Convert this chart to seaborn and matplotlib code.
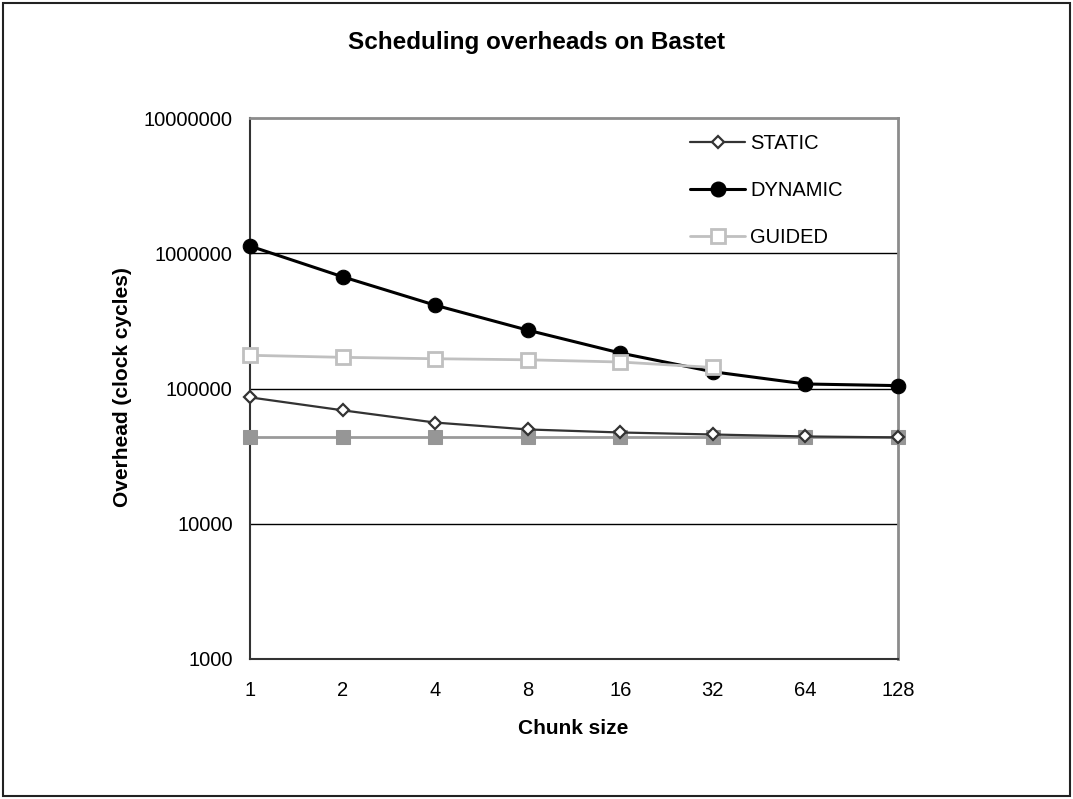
import numpy as np
import pandas as pd
import matplotlib
matplotlib.use("Agg")
import matplotlib.pyplot as plt
from matplotlib.ticker import FixedLocator, FuncFormatter, NullLocator
from matplotlib.lines import Line2D
from matplotlib.patches import Rectangle
import seaborn as sns

# Chunk sizes and measured scheduling overheads (clock cycles)
chunk_sizes = [1, 2, 4, 8, 16, 32, 64, 128]
static_overhead = [86000, 69000, 56000, 49800, 47300, 45700, 44200, 43500]
dynamic_overhead = [1130000, 670000, 413000, 270000, 183000, 133000, 108000, 105000]
guided_chunks = [1, 2, 4, 8, 16, 32]
guided_overhead = [176000, 170000, 166000, 163000, 157000, 143000]
reference_overhead = [44000, 44000, 44000, 44000, 44000, 44000, 44000, 44000]

y_ticks = [1000, 10000, 100000, 1000000, 10000000]

sns.set_style("white")
plt.rcParams["font.family"] = ["Liberation Sans", "DejaVu Sans"]
plt.rcParams["text.color"] = "black"

W, H = 1073, 799
fig = plt.figure(figsize=(W / 100, H / 100), dpi=100)
ax = fig.add_axes([250 / W, 1 - 659 / H, 648 / W, 541 / H])

df_ref = pd.DataFrame({"chunk": chunk_sizes, "overhead": reference_overhead})
df_static = pd.DataFrame({"chunk": chunk_sizes, "overhead": static_overhead})
df_dyn = pd.DataFrame({"chunk": chunk_sizes, "overhead": dynamic_overhead})
df_guided = pd.DataFrame({"chunk": guided_chunks, "overhead": guided_overhead})

style_ref = dict(color="#9a9a9a", lw=2.0, marker="s", markersize=9.5,
                 markerfacecolor="#969696", markeredgecolor="#969696")
style_static = dict(color="#333333", lw=1.6, marker="D", markersize=6,
                    markerfacecolor="white", markeredgecolor="#333333", markeredgewidth=1.6)
style_dyn = dict(color="black", lw=2.2, marker="o", markersize=10.5,
                 markerfacecolor="black", markeredgecolor="black")
style_guided = dict(color="#c0c0c0", lw=2.0, marker="s", markersize=9.5,
                    markerfacecolor="white", markeredgecolor="#c0c0c0", markeredgewidth=2.0)

sns.lineplot(data=df_ref, x="chunk", y="overhead", ax=ax, legend=False,
             zorder=3, clip_on=False, **style_ref)
sns.lineplot(data=df_static, x="chunk", y="overhead", ax=ax, legend=False,
             zorder=4, clip_on=False, **style_static)
sns.lineplot(data=df_dyn, x="chunk", y="overhead", ax=ax, legend=False,
             zorder=5, clip_on=False, **style_dyn)
sns.lineplot(data=df_guided, x="chunk", y="overhead", ax=ax, legend=False,
             zorder=6, clip_on=False, **style_guided)

ax.set_xscale("log", base=2)
ax.set_yscale("log")
ax.set_xlim(1, 128)
ax.set_ylim(1000, 10000000)

ax.xaxis.set_major_locator(FixedLocator(chunk_sizes))
ax.xaxis.set_minor_locator(NullLocator())
ax.xaxis.set_major_formatter(FuncFormatter(lambda v, p: f"{int(round(v))}"))
ax.yaxis.set_major_locator(FixedLocator(y_ticks))
ax.yaxis.set_minor_locator(NullLocator())
ax.yaxis.set_major_formatter(FuncFormatter(lambda v, p: f"{int(round(v))}"))

for yv in y_ticks[1:-1]:
    ax.axhline(yv, color="black", lw=1.0, zorder=1)

ax.tick_params(axis="both", which="major", length=4.5, width=1.0, color="#333333",
               labelsize=14.5, labelcolor="black", direction="out")
ax.tick_params(axis="x", pad=11)
ax.tick_params(axis="y", pad=8)
for side in ("left", "bottom"):
    ax.spines[side].set_color("#333333")
    ax.spines[side].set_linewidth(1.5)
for side in ("top", "right"):
    ax.spines[side].set_color("#8c8c8c")
    ax.spines[side].set_linewidth(2.0)

ax.set_xlabel("")
ax.set_ylabel("")
fig.text(573 / W, 1 - 728 / H, "Chunk size", ha="center", va="center",
         fontsize=15, fontweight="bold", color="black")
fig.text(122 / W, 1 - 387 / H, "Overhead (clock cycles)", ha="center", va="center",
         rotation=90, fontsize=15, fontweight="bold", color="black")
fig.text(0.5, 1 - 48.5 / H, "Scheduling overheads on Bastet", ha="center", va="baseline",
         fontsize=17.5, fontweight="bold", color="black")

handles = [Line2D([], [], **style_static), Line2D([], [], **style_dyn),
           Line2D([], [], **style_guided)]
ax.legend(handles, ["STATIC", "DYNAMIC", "GUIDED"], loc="upper left",
          bbox_to_anchor=(690 / W, 1 - 134 / H), bbox_transform=fig.transFigure,
          frameon=False, fontsize=14.5, handlelength=2.75, handletextpad=0.25,
          labelspacing=1.38, borderaxespad=0, borderpad=0, labelcolor="black")

fig.patches.append(Rectangle((3 / W, 3 / H), 1067 / W, 793 / H,
                             transform=fig.transFigure, fill=False,
                             edgecolor="#222222", lw=1.5))

fig.savefig("out.png", dpi=100)
